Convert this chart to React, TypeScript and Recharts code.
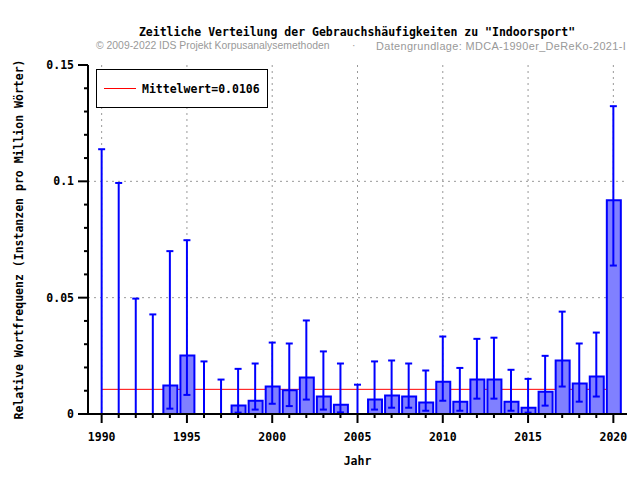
import { ComposedChart, Bar, Scatter, ErrorBar, XAxis, YAxis, CartesianGrid, ReferenceLine, Legend } from 'recharts';

const YEARS = [
  1990, 1991, 1992, 1993, 1994, 1995, 1996, 1997, 1998, 1999, 2000, 2001, 2002, 2003, 2004, 2005,
  2006, 2007, 2008, 2009, 2010, 2011, 2012, 2013, 2014, 2015, 2016, 2017, 2018, 2019, 2020,
];
const FREQ = [
  0, 0, 0, 0, 0.0122, 0.0251, 0, 0, 0.0036, 0.0057, 0.0118, 0.0102, 0.0157, 0.0075, 0.004, 0,
  0.0062, 0.0079, 0.0075, 0.0049, 0.0139, 0.0053, 0.0148, 0.0148, 0.0053, 0.0027, 0.0096, 0.023, 0.0131, 0.0161, 0.0919,
];
const UPPER = [
  0.1138, 0.0993, 0.0496, 0.0428, 0.07, 0.0747, 0.0226, 0.0148, 0.0194, 0.0217, 0.0307, 0.0303, 0.0402, 0.0269, 0.0217, 0.0126,
  0.0226, 0.023, 0.0217, 0.0187, 0.0333, 0.0198, 0.0323, 0.0328, 0.019, 0.0151, 0.025, 0.044, 0.0303, 0.035, 0.1323,
];
const LOWER = [
  0, 0, 0, 0, 0.0023, 0.0082, 0, 0, 0.0006, 0.0019, 0.0044, 0.0034, 0.0062, 0.0019, 0.0007, 0,
  0.0019, 0.0027, 0.0027, 0.0014, 0.0057, 0.0014, 0.0066, 0.0066, 0.0014, 0.0006, 0.0036, 0.0118, 0.0053, 0.0075, 0.0638,
];
const MEAN = 0.0106;

const Y_TICKS = [0, 0.01, 0.02, 0.03, 0.04, 0.05, 0.06, 0.07, 0.08, 0.09, 0.1, 0.11, 0.12, 0.13, 0.14, 0.15];
const Y_MAJOR = [0, 0.05, 0.1, 0.15];
const X_MAJOR = [1990, 1995, 2000, 2005, 2010, 2015, 2020];
const Y_GRID = [0.05, 0.1];

const TITLE = 'Zeitliche Verteilung der Gebrauchshäufigkeiten zu "Indoorsport"';
const COPYRIGHT = '© 2009-2022 IDS Projekt Korpusanalysemethoden';
const SOURCE = 'Datengrundlage: MDCA-1990er_DeReKo-2021-I';

const MONO = '"DejaVu Sans Mono", monospace';
const FONT = { fontFamily: MONO, fontWeight: 700, fontSize: 11.5, fill: '#000' };
const SUB = { position: 'absolute' as const, top: 40, fontFamily: '"Liberation Sans", sans-serif', fontSize: 10.4, color: '#999' };

const data = YEARS.map((year, i) => ({
  year,
  freq: FREQ[i],
  err: [FREQ[i] - LOWER[i], UPPER[i] - FREQ[i]],
}));

function XTick({ x, y, payload }: any) {
  const major = X_MAJOR.includes(payload.value);
  return (
    <g>
      <line x1={x} x2={x} y1={y} y2={y + (major ? 9 : 4)} stroke="#000" strokeWidth={2} />
      {major && (
        <text x={x} y={y + 27} textAnchor="middle" style={FONT}>
          {payload.value}
        </text>
      )}
    </g>
  );
}

function YTick({ x, y, payload }: any) {
  const major = Y_MAJOR.includes(payload.value);
  return (
    <g>
      <line x1={x - (major ? 10 : 4)} x2={x} y1={y} y2={y} stroke="#000" strokeWidth={2} />
      {major && (
        <text x={x - 14} y={y + 4} textAnchor="end" style={FONT}>
          {String(payload.value)}
        </text>
      )}
    </g>
  );
}

function MeanLegend() {
  return (
    <div
      style={{
        width: 172,
        height: 39,
        border: '1px solid #000',
        background: '#fff',
        display: 'flex',
        alignItems: 'center',
        boxSizing: 'border-box',
      }}
    >
      <div style={{ width: 32, height: 1, background: '#ff0000', marginLeft: 7, marginRight: 6 }} />
      <span style={{ fontFamily: MONO, fontWeight: 700, fontSize: 11.5 }}>Mittelwert={MEAN}</span>
    </div>
  );
}

const NoDot = () => <g />;

export default function App() {
  return (
    <div style={{ position: 'absolute', left: 0, top: 0, width: 640, height: 480, background: '#fff' }}>
      <div
        style={{
          position: 'absolute',
          left: 0,
          width: 714,
          top: 25,
          textAlign: 'center',
          fontFamily: MONO,
          fontWeight: 700,
          fontSize: 11.5,
        }}
      >
        {TITLE}
      </div>
      <div style={{ ...SUB, left: 96 }}>{COPYRIGHT}</div>
      <div style={{ ...SUB, left: 352 }}>·</div>
      <div style={{ ...SUB, left: 376, fontSize: 10.9, letterSpacing: 0.37 }}>{SOURCE}</div>
      <ComposedChart
        width={640}
        height={480}
        data={data}
        margin={{ top: 65, right: 13, bottom: 0, left: 0 }}
        style={{ position: 'absolute', left: 0, top: 0 }}
      >
        <CartesianGrid
          stroke="#999"
          strokeDasharray="2 4"
          verticalValues={X_MAJOR}
          horizontalValues={Y_GRID}
        />
        <ReferenceLine
          segment={[
            { x: 1990, y: MEAN },
            { x: 2020, y: MEAN },
          ]}
          stroke="#ff0000"
          strokeWidth={1}
          zIndex={50}
        />
        <XAxis
          dataKey="year"
          type="number"
          domain={[1989.2, 2020.8]}
          ticks={YEARS}
          interval={0}
          height={66}
          tickSize={0}
          tickMargin={0}
          tickLine={false}
          tick={<XTick />}
          axisLine={{ stroke: '#000', strokeWidth: 2 }}
          label={{ value: 'Jahr', position: 'insideBottom', offset: 15, style: FONT }}
        />
        <XAxis
          xAxisId="top"
          dataKey="year"
          type="number"
          domain={[1989.2, 2020.8]}
          orientation="top"
          height={0}
          tick={false}
          tickLine={false}
          axisLine={{ stroke: '#000', strokeWidth: 2 }}
        />
        <YAxis
          type="number"
          domain={[0, 0.15]}
          ticks={Y_TICKS}
          interval={0}
          width={88}
          tickSize={0}
          tickMargin={0}
          tickLine={false}
          tick={<YTick />}
          axisLine={{ stroke: '#000', strokeWidth: 2 }}
          label={{
            value: 'Relative Wortfrequenz (Instanzen pro Million Wörter)',
            angle: -90,
            position: 'insideLeft',
            offset: 19,
            style: { ...FONT, textAnchor: 'middle' },
          }}
        />
        <YAxis
          yAxisId="right"
          type="number"
          domain={[0, 0.15]}
          orientation="right"
          width={0}
          tick={false}
          tickLine={false}
          axisLine={{ stroke: '#000', strokeWidth: 2 }}
        />
        <Legend
          layout="horizontal"
          align="center"
          verticalAlign="middle"
          content={<MeanLegend />}
          wrapperStyle={{ position: 'absolute', left: 96, top: 69, width: 172, height: 39 }}
        />
        <Bar dataKey="freq" fill="#8080ff" stroke="#0000ff" strokeWidth={2} barSize={14} isAnimationActive={false} zIndex={100} />
        <Scatter dataKey="freq" shape={<NoDot />} isAnimationActive={false} zIndex={200}>
          <ErrorBar dataKey="err" direction="y" stroke="#0000ff" strokeWidth={2} width={3.5} />
        </Scatter>
      </ComposedChart>
    </div>
  );
}
